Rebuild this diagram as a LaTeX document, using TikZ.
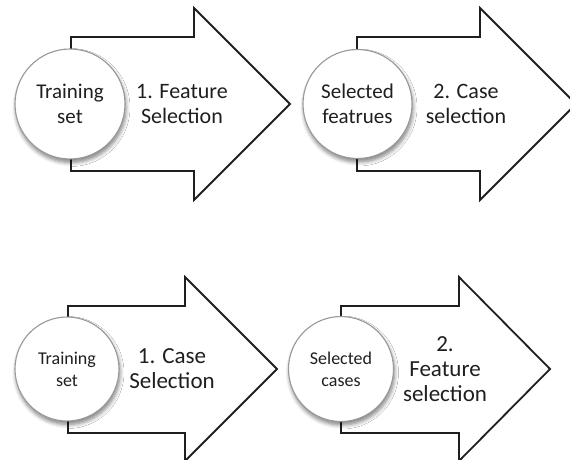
\documentclass[tikz,border=0pt]{standalone}
\usepackage{fontspec}
\setmainfont{Carlito}
\usetikzlibrary{shadows.blur}

\tikzset{
  flowarrow/.style={draw=black!88, line width=1.8pt, fill=white, line join=miter},
  stage/.style={circle, draw=black!40, line width=1.1pt, fill=white,
    inner sep=0pt, align=center, text=black!88,
    blur shadow={shadow xshift=1pt, shadow yshift=-3.5pt, shadow blur steps=6,
      shadow blur radius=4pt, shadow opacity=50}},
  steplabel/.style={align=center, text=black!88, inner sep=0pt},
}

\begin{document}
\begin{tikzpicture}[x=1pt, y=-1pt]
  \useasboundingbox (0,0) rectangle (570,460);
  \clip (0,0) rectangle (570,460);

  % first pipeline: feature selection, then case selection
  \draw[flowarrow] (71,37) -- (194,37) -- (194,8) -- (290,104) -- (194,200)
    -- (194,171) -- (71,171) -- cycle;
  \draw[flowarrow] (357,37) -- (480,37) -- (480,8) -- (576,104) -- (480,200)
    -- (480,171) -- (357,171) -- cycle;

  \node[stage, minimum size=110pt, font=\fontsize{21}{25}\selectfont]
    (train1) at (70,104) {Training\\set};
  \node[stage, minimum size=109pt, font=\fontsize{21}{25}\selectfont]
    (feat1) at (357.5,104) {Selected\\featrues};

  \node[steplabel, font=\fontsize{22}{25}\selectfont] (fs1) at (182,104)
    {1. Feature\\Selection};
  \node[steplabel, font=\fontsize{22}{25}\selectfont] (cs1) at (466,104)
    {2. Case\\selection};

  % second pipeline: case selection, then feature selection
  \draw[flowarrow] (68,306) -- (185,306) -- (185,277) -- (277,369) -- (185,461)
    -- (185,433) -- (68,433) -- cycle;
  \draw[flowarrow] (341,306) -- (459,306) -- (459,277) -- (550,369) -- (459,461)
    -- (459,433) -- (341,433) -- cycle;

  \node[stage, minimum size=104pt, font=\fontsize{18}{22}\selectfont]
    (train2) at (67,369) {Training\\set};
  \node[stage, minimum size=105pt, font=\fontsize{18}{22}\selectfont]
    (cases2) at (341,369) {Selected\\cases};

  \node[steplabel, font=\fontsize{23}{25}\selectfont] (cs2) at (172,369)
    {1. Case\\Selection};
  \node[steplabel, font=\fontsize{23}{25}\selectfont] (fs2) at (445,369)
    {2.\\Feature\\selection};
\end{tikzpicture}
\end{document}
